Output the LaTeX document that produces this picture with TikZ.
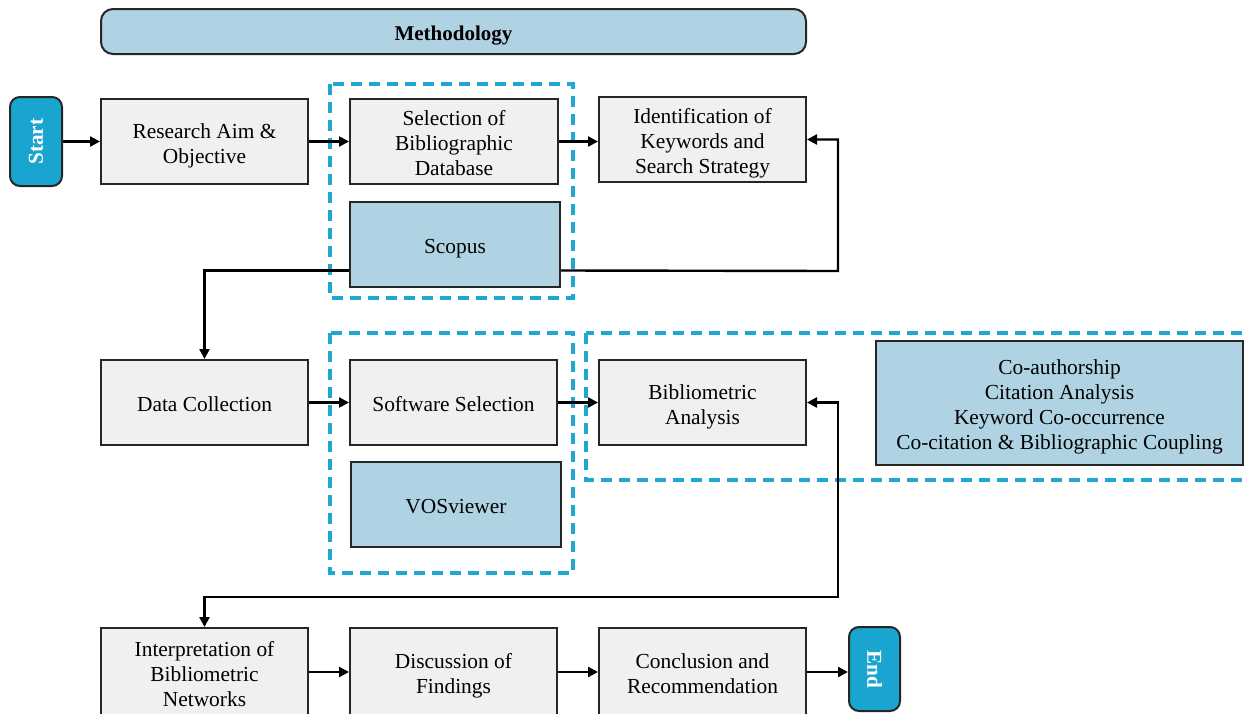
\documentclass[tikz,border=0pt]{standalone}
\usepackage{fontspec}
\setmainfont{Liberation Serif}
\usetikzlibrary{arrows.meta,calc}
\definecolor{gfill}{HTML}{F0F0F0}
\definecolor{lblue}{HTML}{AFD3E3}
\definecolor{sblue}{HTML}{1AA5D0}
\definecolor{dblue}{HTML}{1EA7D3}
\definecolor{bord}{HTML}{262626}
\newcommand\boxtext[1]{\raisebox{-2.2pt}[\height][\depth]{\begin{tabular}{@{}c@{}}#1\end{tabular}}}
\tikzset{
  gbox/.style={draw=bord, line width=1pt, fill=gfill, inner sep=2pt,
    font=\fontsize{10.7}{12.5}\selectfont, minimum width=103.5pt, minimum height=42.5pt},
  bbox/.style={gbox, fill=lblue},
  lowbox/.style={gbox, minimum height=44pt},
  term/.style={draw=bord, line width=1pt, fill=sblue, rounded corners=5pt, text=white,
    font=\fontsize{10.6}{12.5}\selectfont\bfseries, minimum width=44.5pt, minimum height=26pt},
  dbox/.style={draw=dblue, line width=1.7pt, dash pattern=on 5.5pt off 3.5pt},
  arr/.style={draw=black, line width=1.2pt, -{Triangle[length=5pt,width=5pt]}},
  arr2/.style={draw=black, line width=1.2pt, {Triangle[length=5pt,width=5pt]}-{Triangle[length=5pt,width=5pt]}}
}
\begin{document}
\begin{tikzpicture}[x=0.5pt,y=-0.5pt]
\useasboundingbox (0,0) rectangle (1249,713);
\clip (0,0) rectangle (1249,713);
\fill[white] (0,0) rectangle (1249,713);
% dashed groups
\draw[dbox] (330,84) rectangle (573,298);
\draw[dbox] (330,333) rectangle (573,573);
\draw[dbox] (586,333) rectangle (1280,480);
% header
\node[draw=bord, line width=1pt, fill=lblue, rounded corners=6pt, minimum width=352.5pt, minimum height=22.5pt,
  font=\fontsize{10.5}{12.5}\selectfont\bfseries] (meth) at (453.5,31.5) {\boxtext{Methodology}};
% nodes
\node[term, rotate=90] (start) at (36,141.5) {Start};
\node[gbox] (ra) at (204.5,141.5) {\boxtext{Research Aim \&\\Objective}};
\node[gbox, minimum width=104pt] (sel) at (454,141.5) {\boxtext{Selection of\\Bibliographic\\Database}};
\node[gbox] (ident) at (702.5,139.5) {\boxtext{Identification of\\Keywords and\\Search Strategy}};
\node[bbox, minimum width=105pt] (scopus) at (455,244.5) {\boxtext{Scopus}};
\node[gbox] (dc) at (204.5,402.5) {\boxtext{Data Collection}};
\node[gbox] (sw) at (453.5,402.5) {\boxtext{Software Selection}};
\node[gbox] (bib) at (702.5,402.5) {\boxtext{Bibliometric\\Analysis}};
\node[bbox, minimum width=105pt] (vos) at (456,504.5) {\boxtext{VOSviewer}};
\node[bbox, minimum width=183.5pt, minimum height=62pt] (co) at (1059.5,403)
  {\boxtext{Co-authorship\\Citation Analysis\\Keyword Co-occurrence\\Co-citation \& Bibliographic Coupling}};
\node[lowbox] (interp) at (204.5,672) {\boxtext{Interpretation of\\Bibliometric\\Networks}};
\node[lowbox] (disc) at (453.5,672) {\boxtext{Discussion of\\Findings}};
\node[lowbox] (concl) at (702.5,672) {\boxtext{Conclusion and\\Recommendation}};
\node[term, rotate=-90, minimum width=42pt, minimum height=25.5pt] (end) at (874.5,669) {End};
% connectors
\coordinate (rc1) at (838,271);
\coordinate (rc2) at (838,597);
\draw[arr] (start.south) -- (ra.west);
\draw[arr] (ra.east) -- (sel.west);
\draw[arr] (sel.east) -- (sel.east -| ident.west);
\draw[arr] ([yshift=-13pt]scopus.east) -- (rc1) |- (ident.east);
\draw[arr] ([yshift=-13pt]scopus.west) -| (dc.north);
\draw[arr] (dc.east) -- (sw.west);
\draw[arr] (sw.east) -- (bib.west);
\draw[arr2] (bib.east) -| (rc2) -| (interp.north);
\draw[arr] (interp.east) -- (disc.west);
\draw[arr] (disc.east) -- (concl.west);
\draw[arr] (concl.east) -- (concl.east -| end.south);
\end{tikzpicture}
\end{document}
